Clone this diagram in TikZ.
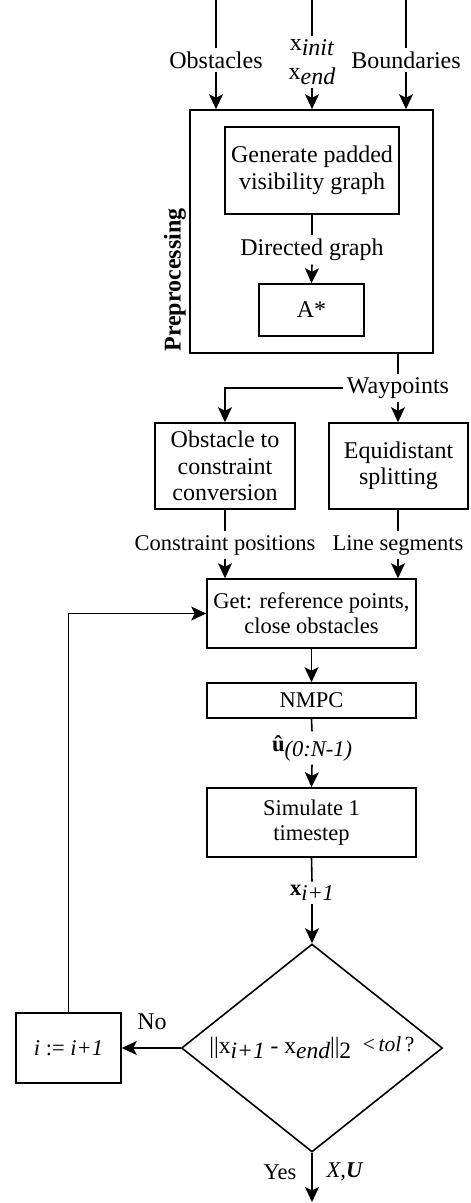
\documentclass[tikz,border=0pt]{standalone}
\usepackage{fontspec}
\setmainfont{Liberation Serif}
\usetikzlibrary{arrows.meta,shapes.geometric}
\newcommand{\lowr}[1]{\raisebox{-5pt}{\textit{#1}}}

\begin{document}
\begin{tikzpicture}[x=1pt,y=-1pt,line width=1.6pt,
  >={Stealth[length=15pt,width=14pt,inset=3.5pt]},
  box/.style={rectangle,draw,align=center,inner sep=2pt,font=\fontsize{24}{26.5}\selectfont},
  lbox/.style={box,font=\fontsize{22.5}{25}\selectfont},
  lbl/.style={align=center,inner sep=3pt,font=\fontsize{24}{26.5}\selectfont},
  slbl/.style={lbl,font=\fontsize{22.5}{25}\selectfont}]
\useasboundingbox (0,0) rectangle (471,1203);
\coordinate (in1) at (216,0);
\coordinate (in2) at (312,0);
\coordinate (in3) at (406,0);
\node [box,minimum width=243,minimum height=243] (prep) at (311.5,231.5) {};
\node [lbl,rotate=90,font=\fontsize{24}{26}\selectfont\bfseries] (preplbl) at (175,280) {Preprocessing};
\node [lbl] (obs) at (216,60) {Obstacles};
\node [lbl] (xin) at (312,62) {x\lowr{init}\\[2pt]x\lowr{end}};
\node [lbl] (bnd) at (406,60) {Boundaries};
\node [box,minimum width=174,minimum height=87] (gen) at (312,170.5) {Generate padded\\visibility graph};
\node [lbl] (dg) at (312,250) {Directed graph};
\node [box,minimum width=105,minimum height=52] (astar) at (311.5,310) {A*};
\node [lbl] (wp) at (398,388) {Waypoints};
\node [box,minimum width=140,minimum height=86] (obst) at (225,466) {Obstacle to\\constraint\\conversion};
\node [box,minimum width=139,minimum height=86] (equi) at (398.5,466) {Equidistant\\splitting};
\node [slbl] (cp) at (225,545) {Constraint positions};
\node [slbl] (ls) at (398,545) {Line segments};
\node [lbox,minimum width=209,minimum height=69] (get) at (311.5,613.5) {Get: reference points,\\close obstacles};
\node [lbox,minimum width=209,minimum height=35] (nmpc) at (311.5,700.5) {NMPC};
\node [slbl] (uhat) at (312,748) {\textbf{û}\lowr{(0:N-1)}};
\node [lbox,minimum width=209,minimum height=69] (sim) at (311.5,822.5) {Simulate 1\\timestep};
\node [slbl] (xnext) at (312,893) {\textbf{x}\lowr{i+1}};
\node [diamond,draw,aspect=1.25,inner sep=0pt,minimum width=261,minimum height=208,font=\fontsize{23.5}{26}\selectfont] (dia) at (312,1048)
  {{|}{|}x\lowr{i+1} - x\lowr{end}{|}{|}\raisebox{-5pt}{2}\ \ \raisebox{2pt}{\fontsize{21.5}{23}\selectfont<\,\textit{tol}\,?}};
\node [lbox,minimum width=105,minimum height=70] (inc) at (68.5,1048) {\textit{i} := \textit{i+1}};
\node [lbl] (no) at (152,1022) {No};
\node [slbl] (yes) at (280,1172) {Yes};
\node [slbl] (xu) at (345,1172) {\textit{X},\textbf{\textit{U}}};
\coordinate (out) at (312,1202);
\draw (in1) -- (obs.north);
\draw (in2) -- (xin.north);
\draw (in3) -- (bnd.north);
\draw [->] (obs.south) -- (obs.south |- prep.north);
\draw [->] (xin.south) -- (xin.south |- prep.north);
\draw [->] (bnd.south) -- (bnd.south |- prep.north);
\draw (gen.south) -- (dg.north);
\draw [->] (dg.south) -- (astar.north);
\draw (prep.south -| wp) -- (wp.north);
\draw [->] (wp.west) -| (obst.north);
\draw [->] (wp.south) -- (equi.north -| wp);
\draw (obst.south) -- (cp.north);
\draw (equi.south -| ls) -- (ls.north);
\draw [->] (cp.south) -- (cp.south |- get.north);
\draw [->] (ls.south) -- (ls.south |- get.north);
\draw [->] (get) -- (nmpc);
\draw (nmpc.south) -- (uhat.north);
\draw [->] (uhat.south) -- (sim.north);
\draw (sim.south) -- (xnext.north);
\draw [->] (xnext.south) -- (dia.north);
\draw [->] (dia.west) -- (inc.east);
\draw [->] (inc.north) |- (get.west);
\draw [->] (dia.south) -- (out);
\end{tikzpicture}
\end{document}
